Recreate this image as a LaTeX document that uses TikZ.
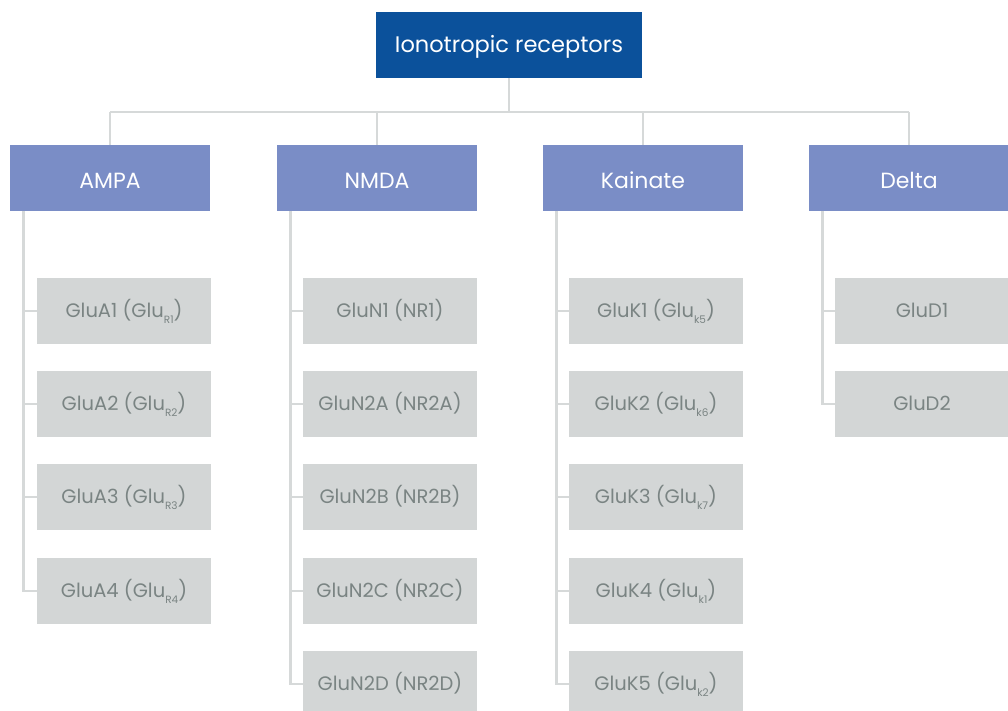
\documentclass[tikz,border=0pt]{standalone}
\usepackage{fontspec}
\setmainfont{Poppins}
\definecolor{topblue}{HTML}{0B519B}
\definecolor{catblue}{HTML}{7A8DC6}
\definecolor{leaffill}{HTML}{D3D6D6}
\definecolor{leaftext}{HTML}{7A8483}
\definecolor{linkgray}{HTML}{D6D9D9}
\newcommand\lowsub[1]{\raisebox{-0.6ex}{\fontsize{10.5}{10.5}\selectfont #1}}
\tikzset{
  topbox/.style={fill=topblue, text=white, minimum width=266pt, minimum height=66pt,
    inner sep=0pt, outer sep=0pt, text height=16.3pt, text depth=1.5pt,
    font=\fontsize{22.5}{26}\selectfont},
  catbox/.style={fill=catblue, text=white, minimum width=200pt, minimum height=66pt,
    inner sep=0pt, outer sep=0pt, anchor=north west, text height=23pt, text depth=1.3pt,
    font=\fontsize{22}{26}\selectfont},
  leafbox/.style={fill=leaffill, text=leaftext, minimum width=174pt, minimum height=66pt,
    inner sep=0pt, outer sep=0pt, anchor=north west, text height=14.5pt, text depth=1.5pt,
    font=\fontsize{19.5}{23}\selectfont},
  link/.style={draw=linkgray, line width=2.5pt},
}
\begin{document}
\begin{tikzpicture}[x=1pt, y=-1pt]
\useasboundingbox (0,0) rectangle (1008,711);
\clip (0,0) rectangle (1008,711);

% root and bus
\node[topbox] (root) at (509,45) {Ionotropic receptors};
\coordinate (bus) at (509,112);

% receptor families
\node[catbox] (ampa) at (10,145) {AMPA};
\node[catbox] (nmda) at (277,145) {NMDA};
\node[catbox] (kain) at (543,145) {Kainate};
\node[catbox] (delt) at (809,145) {Delta};

% subunits
\node[leafbox] (a1) at (37,278) {GluA1 (Glu\lowsub{R1})};
\node[leafbox] (a2) at (37,371) {GluA2 (Glu\lowsub{R2})};
\node[leafbox] (a3) at (37,464) {GluA3 (Glu\lowsub{R3})};
\node[leafbox] (a4) at (37,558) {GluA4 (Glu\lowsub{R4})};

\node[leafbox] (n1) at (303,278) {GluN1 (NR1)};
\node[leafbox] (n2) at (303,371) {GluN2A (NR2A)};
\node[leafbox] (n3) at (303,464) {GluN2B (NR2B)};
\node[leafbox] (n4) at (303,558) {GluN2C (NR2C)};
\node[leafbox] (n5) at (303,651) {GluN2D (NR2D)};

\node[leafbox] (k1) at (569,278) {GluK1 (Glu\lowsub{k5})};
\node[leafbox] (k2) at (569,371) {GluK2 (Glu\lowsub{k6})};
\node[leafbox] (k3) at (569,464) {GluK3 (Glu\lowsub{k7})};
\node[leafbox] (k4) at (569,558) {GluK4 (Glu\lowsub{k1})};
\node[leafbox] (k5) at (569,651) {GluK5 (Glu\lowsub{k2})};

\node[leafbox] (d1) at (835,278) {GluD1};
\node[leafbox] (d2) at (835,371) {GluD2};

% root to families
\draw[link] (root.south) -- (bus);
\draw[link] (ampa.north |- bus) -- (delt.north |- bus);
\foreach \c in {ampa,nmda,kain,delt}
  \draw[link] (\c.north |- bus) -- (\c.north);

% family spines to subunits
\coordinate (sa) at ([xshift=13.5pt]ampa.south west);
\coordinate (sn) at ([xshift=13.5pt]nmda.south west);
\coordinate (sk) at ([xshift=13.5pt]kain.south west);
\coordinate (sd) at ([xshift=13.5pt]delt.south west);

\draw[link] (sa) |- (a4.west);
\foreach \i in {1,2,3} \draw[link] (sa |- a\i.west) -- (a\i.west);

\draw[link] (sn) |- (n5.west);
\foreach \i in {1,2,3,4} \draw[link] (sn |- n\i.west) -- (n\i.west);

\draw[link] (sk) |- (k5.west);
\foreach \i in {1,2,3,4} \draw[link] (sk |- k\i.west) -- (k\i.west);

\draw[link] (sd) |- (d2.west);
\draw[link] (sd |- d1.west) -- (d1.west);
\end{tikzpicture}
\end{document}
